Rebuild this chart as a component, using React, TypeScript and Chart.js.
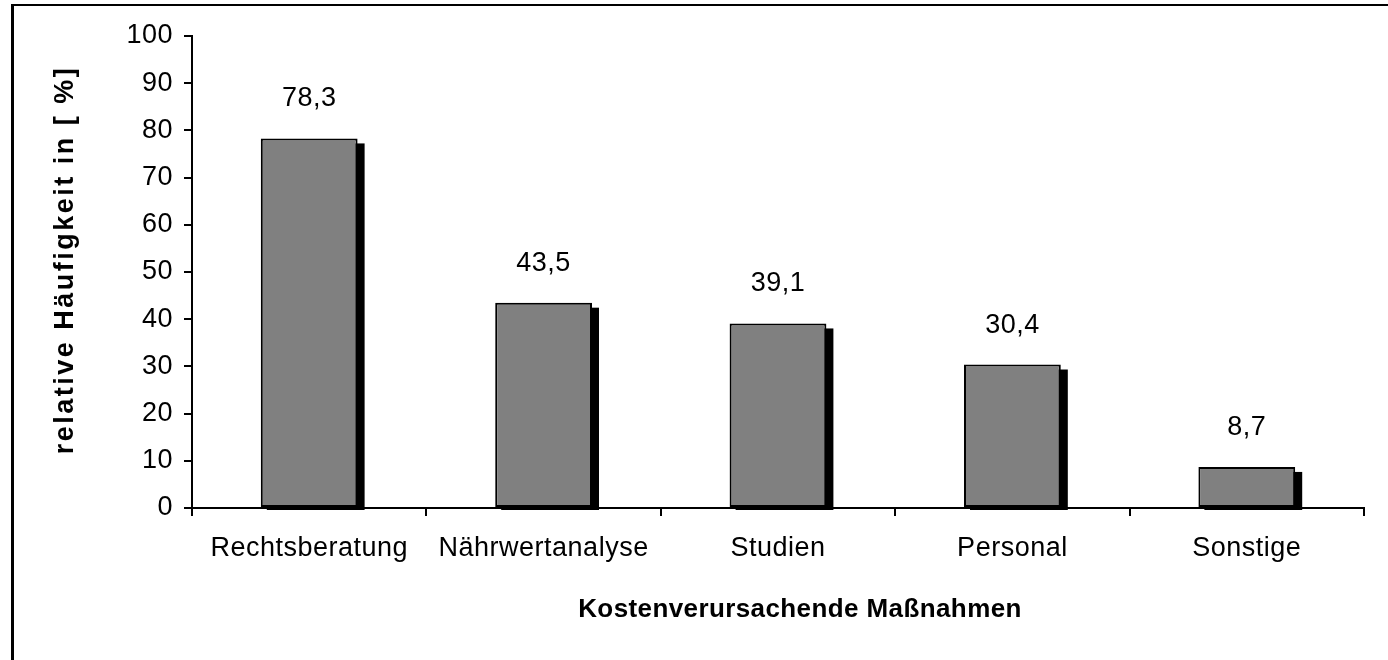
import React, { useEffect, useRef } from "react";
import { Chart, registerables } from "chart.js";

Chart.register(...registerables);

const categories = ["Rechtsberatung", "Nährwertanalyse", "Studien", "Personal", "Sonstige"];
const values = [78.3, 43.5, 39.1, 30.4, 8.7];
const yMin = 0;
const yMax = 100;
const yStep = 10;
const xTitle = "Kostenverursachende Maßnahmen";
const yTitle = "relative Häufigkeit in [ %]";

const FONT = '"Liberation Sans", Arial, Helvetica, sans-serif';

export default function App() {
  const ref = useRef<HTMLCanvasElement>(null);

  useEffect(() => {
    document.body.style.margin = "0";
    const canvas = ref.current;
    if (!canvas) return;

    const customPlugin = {
      id: "customDraw",
      beforeUpdate(chart: any) {
        chart.ctx.letterSpacing = "0.5px";
      },
      beforeDraw(chart: any) {
        const c = chart.ctx;
        c.save();
        c.fillStyle = "#ffffff";
        c.fillRect(0, 0, chart.width, chart.height);
        c.fillStyle = "#000000";
        c.fillRect(11, 4, 3, chart.height - 4);
        c.fillRect(11, 4, chart.width - 11, 2);
        c.restore();
      },
      beforeDatasetsDraw(chart: any) {
        const c = chart.ctx;
        const meta = chart.getDatasetMeta(0);
        c.save();
        c.fillStyle = "#000000";
        meta.data.forEach((el: any) => {
          const p = el.getProps(["x", "y", "base", "width"], true);
          const left = p.x - p.width / 2;
          c.fillRect(left + 6, p.y + 5, p.width + 1, p.base + 3 - (p.y + 5));
        });
        c.restore();
      },
      afterDatasetsDraw(chart: any) {
        const c = chart.ctx;
        const meta = chart.getDatasetMeta(0);
        c.save();
        c.fillStyle = "#000000";
        c.font = `27px ${FONT}`;
        c.letterSpacing = "0.5px";
        c.textAlign = "center";
        c.textBaseline = "alphabetic";
        meta.data.forEach((el: any, i: number) => {
          const p = el.getProps(["x", "y"], true);
          const txt = values[i].toFixed(1).replace(".", ",");
          c.fillText(txt, p.x, p.y - 32);
        });
        c.restore();
      },
      afterDraw(chart: any) {
        const c = chart.ctx;
        c.save();
        c.fillStyle = "#000000";
        c.font = `bold 26px ${FONT}`;
        c.letterSpacing = "0.4px";
        c.textAlign = "center";
        c.textBaseline = "alphabetic";
        c.fillText(xTitle, 800, 617);
        c.restore();

        c.save();
        c.fillStyle = "#000000";
        c.font = `bold 27px ${FONT}`;
        c.letterSpacing = "2.5px";
        c.textAlign = "center";
        c.textBaseline = "alphabetic";
        c.translate(73, 260);
        c.rotate(-Math.PI / 2);
        c.fillText(yTitle, 0, 0);
        c.restore();
      },
    };

    const chart = new Chart(canvas, {
      type: "bar",
      data: {
        labels: categories,
        datasets: [
          {
            data: values,
            backgroundColor: "#808080",
            borderColor: "#000000",
            borderWidth: 2,
            borderSkipped: false,
            barPercentage: 0.413,
            categoryPercentage: 1,
          },
        ],
      },
      options: {
        responsive: false,
        animation: false,
        devicePixelRatio: 1,
        layout: { padding: { top: 36, right: 24, left: 0, bottom: 0 } },
        plugins: {
          legend: { display: false },
          tooltip: { enabled: false },
          title: { display: false },
        },
        scales: {
          x: {
            type: "category",
            afterFit: (s: any) => {
              s.height = 152;
            },
            grid: {
              offset: true,
              drawOnChartArea: false,
              drawTicks: true,
              tickLength: 8,
              color: "#000000",
              lineWidth: 2,
            },
            border: { display: true, color: "#000000", width: 2 },
            ticks: {
              color: "#000000",
              font: { family: FONT, size: 27 },
              padding: 16,
              maxRotation: 0,
              autoSkip: false,
            },
          },
          y: {
            min: yMin,
            max: yMax,
            afterFit: (s: any) => {
              s.width = 192;
            },
            grid: {
              drawOnChartArea: false,
              drawTicks: true,
              tickLength: 8,
              color: "#000000",
              lineWidth: 2,
            },
            border: { display: true, color: "#000000", width: 2 },
            ticks: {
              stepSize: yStep,
              color: "#000000",
              font: { family: FONT, size: 27 },
              padding: 11,
            },
          },
        },
      },
      plugins: [customPlugin],
    });

    return () => {
      chart.destroy();
    };
  }, []);

  return (
    <div style={{ position: "fixed", left: 0, top: 0, width: 1388, height: 660, background: "#fff" }}>
      <canvas ref={ref} width={1388} height={660} style={{ display: "block", width: 1388, height: 660 }} />
    </div>
  );
}
